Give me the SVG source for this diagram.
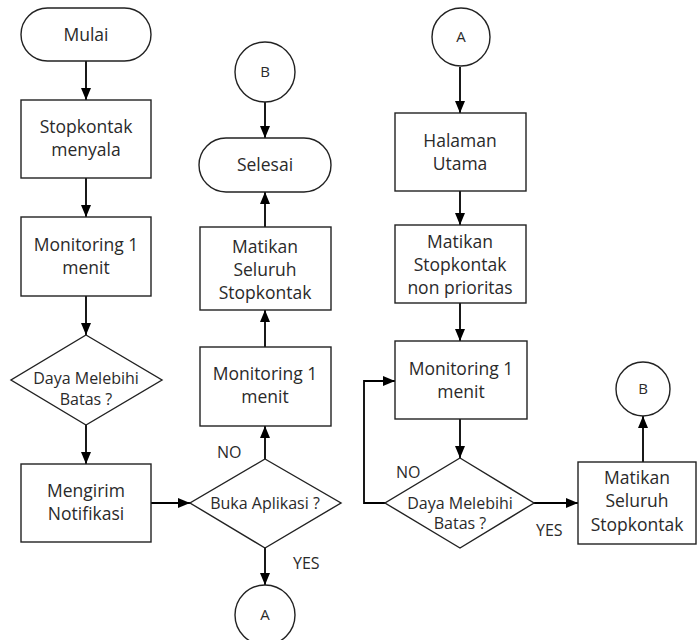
<svg xmlns="http://www.w3.org/2000/svg" width="697" height="640" viewBox="0 0 697 640">
<defs>
<marker id="arr" viewBox="0 0 12 10" refX="12" refY="5" markerWidth="12" markerHeight="10" markerUnits="userSpaceOnUse" orient="auto">
<path d="M0,0 L12,5 L0,10 Z" fill="#000"/>
</marker>
<style>
.s{fill:#fff;stroke:#222;stroke-width:1.4}
.t{font-family:"Open Sans","Noto Sans",sans-serif;font-size:17.5px;fill:#2a2a2a;text-anchor:middle}
.d{font-family:"Open Sans","Noto Sans",sans-serif;font-size:16px;fill:#2a2a2a;text-anchor:middle}
.c{font-family:"Open Sans","Noto Sans",sans-serif;font-size:15px;fill:#2a2a2a;text-anchor:middle}
.l{font-family:"Open Sans","Noto Sans",sans-serif;font-size:16px;fill:#2a2a2a}
.e{fill:none;stroke:#000;stroke-width:1.8;marker-end:url(#arr)}
</style>
</defs>
<rect width="697" height="640" fill="#fff"/>
<g id="connectors">
<path class="e" d="M86,61 V100"/>
<path class="e" d="M86,178 V217"/>
<path class="e" d="M86,296 V335"/>
<path class="e" d="M86,425 V464"/>
<path class="e" d="M151,503 H190"/>
<path class="e" d="M265,459 V426"/>
<path class="e" d="M265,347 V310"/>
<path class="e" d="M265,227 V192"/>
<path class="e" d="M265,102 V138"/>
<path class="e" d="M265,548 V585"/>
<path class="e" d="M460,67 V113"/>
<path class="e" d="M460,191 V225"/>
<path class="e" d="M460,303 V341"/>
<path class="e" d="M460,419 V458"/>
<path class="e" d="M385,503 H364 V381 H395"/>
<path class="e" d="M534,503 H578"/>
<path class="e" d="M643,462 V416"/>
</g>
<g id="labels">
<text class="l" x="217" y="458">NO</text>
<text class="l" x="293" y="569">YES</text>
<text class="l" x="396" y="478">NO</text>
<text class="l" x="536" y="536">YES</text>
</g>
<g id="mulai">
<rect class="s" x="21" y="8" width="130" height="53" rx="26.5"/>
<text class="t" x="86" y="41">Mulai</text>
</g>
<g id="stopkontak-menyala">
<rect class="s" x="21" y="100" width="130" height="78"/>
<text class="t" x="86" y="133">Stopkontak</text>
<text class="t" x="86" y="156">menyala</text>
</g>
<g id="monitoring-left">
<rect class="s" x="21" y="217" width="130" height="79"/>
<text class="t" x="86" y="251">Monitoring 1</text>
<text class="t" x="86" y="274">menit</text>
</g>
<g id="daya-left">
<path class="s" d="M86,335 L162,380 L86,425 L11,380 Z"/>
<text class="d" x="86" y="384">Daya Melebihi</text>
<text class="d" x="86" y="405">Batas ?</text>
</g>
<g id="mengirim">
<rect class="s" x="21" y="464" width="130" height="78"/>
<text class="t" x="86" y="497">Mengirim</text>
<text class="t" x="86" y="520">Notifikasi</text>
</g>
<g id="buka-aplikasi">
<path class="s" d="M265,459 L341,503 L265,548 L190,503 Z"/>
<text class="d" x="265" y="509">Buka Aplikasi ?</text>
</g>
<g id="monitoring-mid">
<rect class="s" x="200" y="347" width="131" height="79"/>
<text class="t" x="265" y="380">Monitoring 1</text>
<text class="t" x="265" y="403">menit</text>
</g>
<g id="matikan-mid">
<rect class="s" x="200" y="227" width="131" height="83"/>
<text class="t" x="265" y="253">Matikan</text>
<text class="t" x="265" y="276">Seluruh</text>
<text class="t" x="265" y="299">Stopkontak</text>
</g>
<g id="selesai">
<rect class="s" x="199" y="138" width="132" height="54" rx="27"/>
<text class="t" x="265" y="171">Selesai</text>
</g>
<g id="circle-b-mid">
<circle class="s" cx="265" cy="72" r="30"/>
<text class="c" x="265" y="77">B</text>
</g>
<g id="circle-a-bottom">
<circle class="s" cx="265" cy="615" r="30"/>
<text class="c" x="265" y="620">A</text>
</g>
<g id="circle-a-top">
<circle class="s" cx="461" cy="37" r="29"/>
<text class="c" x="461" y="42">A</text>
</g>
<g id="halaman">
<rect class="s" x="395" y="113" width="131" height="78"/>
<text class="t" x="460" y="147">Halaman</text>
<text class="t" x="460" y="170">Utama</text>
</g>
<g id="matikan-non">
<rect class="s" x="395" y="225" width="131" height="78"/>
<text class="t" x="460" y="248">Matikan</text>
<text class="t" x="460" y="271">Stopkontak</text>
<text class="t" x="460" y="294">non prioritas</text>
</g>
<g id="monitoring-right">
<rect class="s" x="395" y="341" width="132" height="78"/>
<text class="t" x="461" y="375">Monitoring 1</text>
<text class="t" x="461" y="398">menit</text>
</g>
<g id="daya-right">
<path class="s" d="M460,458 L534,503 L460,548 L385,503 Z"/>
<text class="d" x="460" y="509">Daya Melebihi</text>
<text class="d" x="460" y="529">Batas ?</text>
</g>
<g id="matikan-right">
<rect class="s" x="578" y="462" width="118" height="82"/>
<text class="t" x="637" y="484">Matikan</text>
<text class="t" x="637" y="507">Seluruh</text>
<text class="t" x="637" y="531">Stopkontak</text>
</g>
<g id="circle-b-right">
<circle class="s" cx="643" cy="389" r="27"/>
<text class="c" x="643" y="394">B</text>
</g>
</svg>
